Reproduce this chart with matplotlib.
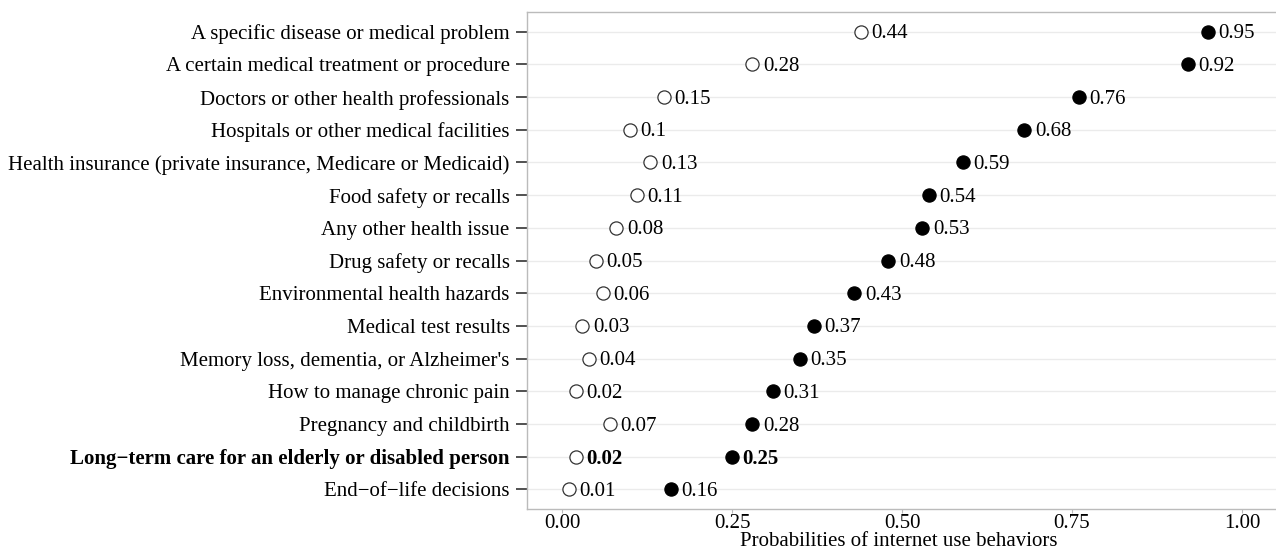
import matplotlib
matplotlib.use("Agg")
import matplotlib.pyplot as plt

categories = [
    "A specific disease or medical problem",
    "A certain medical treatment or procedure",
    "Doctors or other health professionals",
    "Hospitals or other medical facilities",
    "Health insurance (private insurance, Medicare or Medicaid)",
    "Food safety or recalls",
    "Any other health issue",
    "Drug safety or recalls",
    "Environmental health hazards",
    "Medical test results",
    "Memory loss, dementia, or Alzheimer's",
    "How to manage chronic pain",
    "Pregnancy and childbirth",
    "Long\u2212term care for an elderly or disabled person",
    "End\u2212of\u2212life decisions",
]
open_vals = [0.44, 0.28, 0.15, 0.10, 0.13, 0.11, 0.08, 0.05, 0.06, 0.03, 0.04, 0.02, 0.07, 0.02, 0.01]
filled_vals = [0.95, 0.92, 0.76, 0.68, 0.59, 0.54, 0.53, 0.48, 0.43, 0.37, 0.35, 0.31, 0.28, 0.25, 0.16]
highlight = "Long\u2212term care for an elderly or disabled person"

plt.rcParams["font.family"] = ["Liberation Serif", "DejaVu Serif"]
FS = 15

fig = plt.figure(figsize=(12.76, 5.52), dpi=100)
ax = fig.add_axes([0.413, 0.078, 0.587, 0.900])

n = len(categories)
ys = [n - 1 - i for i in range(n)]

for y in ys:
    ax.axhline(y, color="#ebebeb", lw=1.0, zorder=0)

ax.scatter(open_vals, ys, s=90, facecolor="white", edgecolor="#333333", linewidth=0.9, zorder=3)
ax.scatter(filled_vals, ys, s=90, facecolor="black", edgecolor="black", linewidth=0.9, zorder=3)


def fmt(v):
    s = f"{v:.2f}"
    return s[:-1] if s.endswith("0") else s


for cat, y, o, f in zip(categories, ys, open_vals, filled_vals):
    weight = "bold" if cat == highlight else "normal"
    for v in (o, f):
        ax.annotate(fmt(v), (v, y), xytext=(7.5, -1.5), textcoords="offset points",
                    va="center", ha="left", fontsize=FS, fontweight=weight)

ax.set_yticks(ys)
ax.set_yticklabels(categories, fontsize=FS)
for lab in ax.get_yticklabels():
    if lab.get_text() == highlight:
        lab.set_fontweight("bold")
ax.set_ylim(-0.6, n - 1 + 0.6)

ax.set_xlim(-0.0515, 1.05)
ax.set_xticks([0, 0.25, 0.5, 0.75, 1.0])
ax.set_xticklabels(["0.00", "0.25", "0.50", "0.75", "1.00"], fontsize=FS)
fig.text(0.704, 0.001, "Probabilities of internet use behaviors",
         fontsize=FS, ha="center", va="bottom")

ax.tick_params(axis="y", length=8, width=1.2, color="#333333", pad=4.5)
ax.tick_params(axis="x", length=3, width=0.8, color="#bbbbbb", pad=1)
for side in ["left", "bottom", "top"]:
    ax.spines[side].set_color("#bbbbbb")
    ax.spines[side].set_linewidth(1.0)
ax.spines["right"].set_visible(False)

fig.savefig("out.png", dpi=100)
